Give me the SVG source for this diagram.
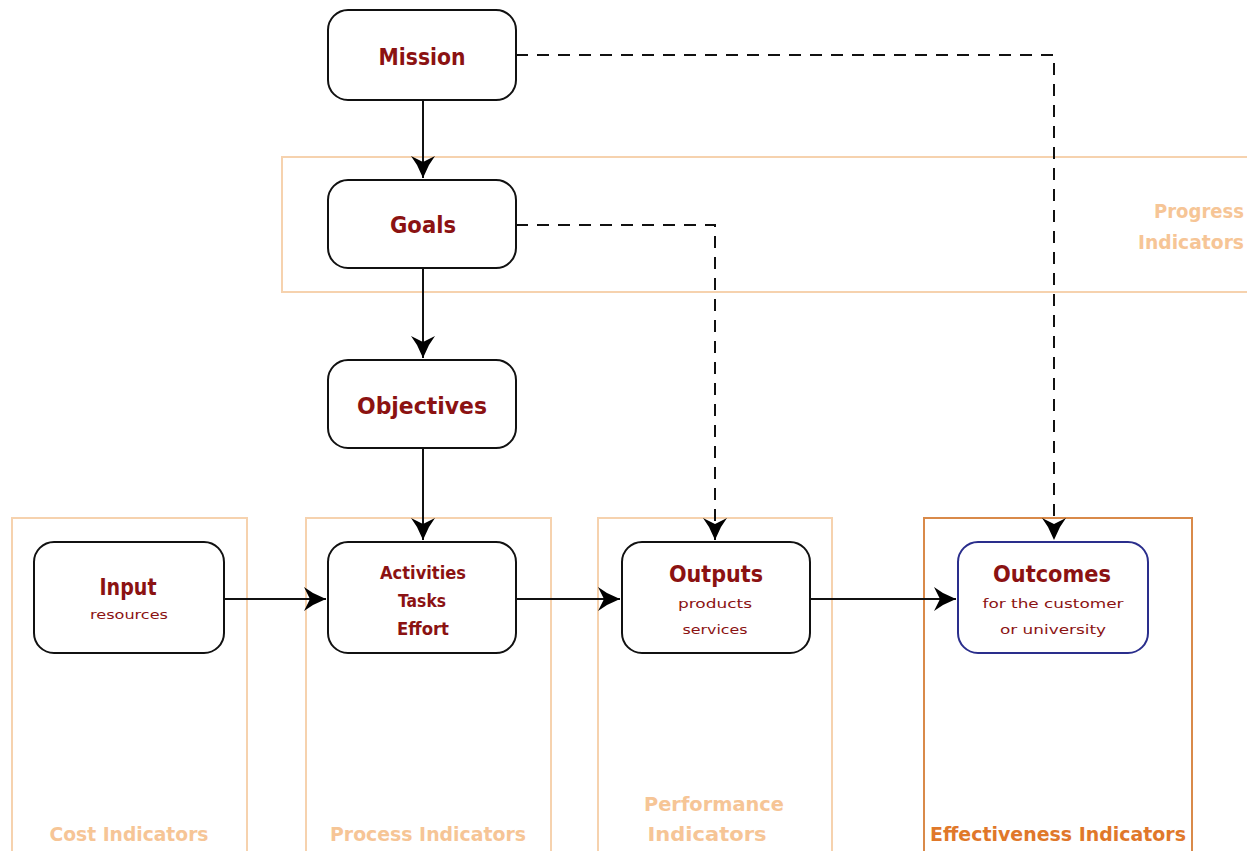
<svg xmlns="http://www.w3.org/2000/svg" width="1247" height="851" viewBox="0 0 1247 851">
<style>
.node{fill:#fff;stroke:#111;stroke-width:2}
.blue{stroke:#2a2e8c}
.zone{fill:none;stroke:#f6d2ae;stroke-width:2}
.zone2{fill:none;stroke:#d98a4a;stroke-width:2}
.t{font-family:"DejaVu Sans","Liberation Sans",sans-serif;font-weight:bold;fill:#8b1212;text-anchor:middle}
.big{font-size:23px}
.mid{font-size:18px}
.small{font-size:13px;font-weight:normal}
.z{font-family:"DejaVu Sans","Liberation Sans",sans-serif;font-weight:bold;font-size:19px;fill:#f6c596;text-anchor:middle}
.z2{fill:#e0782a}
.c{fill:none;stroke:#111;stroke-width:2}
.d{stroke-dasharray:12 9}
</style>
<defs>
<marker id="ah" viewBox="0 0 24 26" refX="22" refY="13" markerWidth="24" markerHeight="26" markerUnits="userSpaceOnUse" orient="auto">
<path d="M0,1 L9,7 L22,13 L9,19 L0,25 L6,13 Z" fill="#000"/>
</marker>
</defs>
<rect width="1247" height="851" fill="#fff"/>
<g id="zones">
<rect id="progress-zone" class="zone" x="282" y="157" width="980" height="135"/>
<rect id="cost-zone" class="zone" x="12" y="518" width="235" height="350"/>
<rect id="process-zone" class="zone" x="306" y="518" width="245" height="350"/>
<rect id="performance-zone" class="zone" x="598" y="518" width="234" height="350"/>
<rect id="effectiveness-zone" class="zone2" x="924" y="518" width="268" height="350"/>
<text class="z" x="1199" y="218" textLength="90" lengthAdjust="spacingAndGlyphs">Progress</text>
<text class="z" x="1191" y="249" textLength="106" lengthAdjust="spacingAndGlyphs">Indicators</text>
<text class="z" x="129" y="841" textLength="159" lengthAdjust="spacingAndGlyphs">Cost Indicators</text>
<text class="z" x="428" y="841" textLength="196" lengthAdjust="spacingAndGlyphs">Process Indicators</text>
<text class="z" x="714" y="811" textLength="140" lengthAdjust="spacingAndGlyphs">Performance</text>
<text class="z" x="707" y="841" textLength="119" lengthAdjust="spacingAndGlyphs">Indicators</text>
<text class="z z2" x="1058" y="841" textLength="256" lengthAdjust="spacingAndGlyphs">Effectiveness Indicators</text>
</g>
<g id="connectors">
<path class="c" d="M423,100 V178" marker-end="url(#ah)"/>
<path class="c" d="M423,268 V358" marker-end="url(#ah)"/>
<path class="c" d="M423,448 V540" marker-end="url(#ah)"/>
<path class="c" d="M224,599 H326" marker-end="url(#ah)"/>
<path class="c" d="M516,599 H620" marker-end="url(#ah)"/>
<path class="c" d="M810,599 H956" marker-end="url(#ah)"/>
<path class="c d" d="M516,55 H1054 V540" marker-end="url(#ah)"/>
<path class="c d" d="M516,225 H715 V540" marker-end="url(#ah)"/>
</g>
<g id="mission">
<rect class="node" x="328" y="10" width="188" height="90" rx="20"/>
<text class="t big" x="422" y="65" textLength="87" lengthAdjust="spacingAndGlyphs">Mission</text>
</g>
<g id="goals">
<rect class="node" x="328" y="180" width="188" height="88" rx="20"/>
<text class="t big" x="423" y="233" textLength="66" lengthAdjust="spacingAndGlyphs">Goals</text>
</g>
<g id="objectives">
<rect class="node" x="328" y="360" width="188" height="88" rx="20"/>
<text class="t big" x="422" y="414" textLength="130" lengthAdjust="spacingAndGlyphs">Objectives</text>
</g>
<g id="input">
<rect class="node" x="34" y="542" width="190" height="111" rx="20"/>
<text class="t big" x="128" y="595" textLength="57" lengthAdjust="spacingAndGlyphs">Input</text>
<text class="t small" x="129" y="619" textLength="78" lengthAdjust="spacingAndGlyphs">resources</text>
</g>
<g id="activities">
<rect class="node" x="328" y="542" width="188" height="111" rx="20"/>
<text class="t mid" x="423" y="579" textLength="86" lengthAdjust="spacingAndGlyphs">Activities</text>
<text class="t mid" x="422" y="607" textLength="48" lengthAdjust="spacingAndGlyphs">Tasks</text>
<text class="t mid" x="423" y="635" textLength="52" lengthAdjust="spacingAndGlyphs">Effort</text>
</g>
<g id="outputs">
<rect class="node" x="622" y="542" width="188" height="111" rx="20"/>
<text class="t big" x="716" y="582" textLength="94" lengthAdjust="spacingAndGlyphs">Outputs</text>
<text class="t small" x="715" y="608" textLength="74" lengthAdjust="spacingAndGlyphs">products</text>
<text class="t small" x="715" y="634" textLength="65" lengthAdjust="spacingAndGlyphs">services</text>
</g>
<g id="outcomes">
<rect class="node blue" x="958" y="542" width="190" height="111" rx="20"/>
<text class="t big" x="1052" y="582" textLength="118" lengthAdjust="spacingAndGlyphs">Outcomes</text>
<text class="t small" x="1053" y="608" textLength="141" lengthAdjust="spacingAndGlyphs">for the customer</text>
<text class="t small" x="1053" y="634" textLength="106" lengthAdjust="spacingAndGlyphs">or university</text>
</g>
</svg>
